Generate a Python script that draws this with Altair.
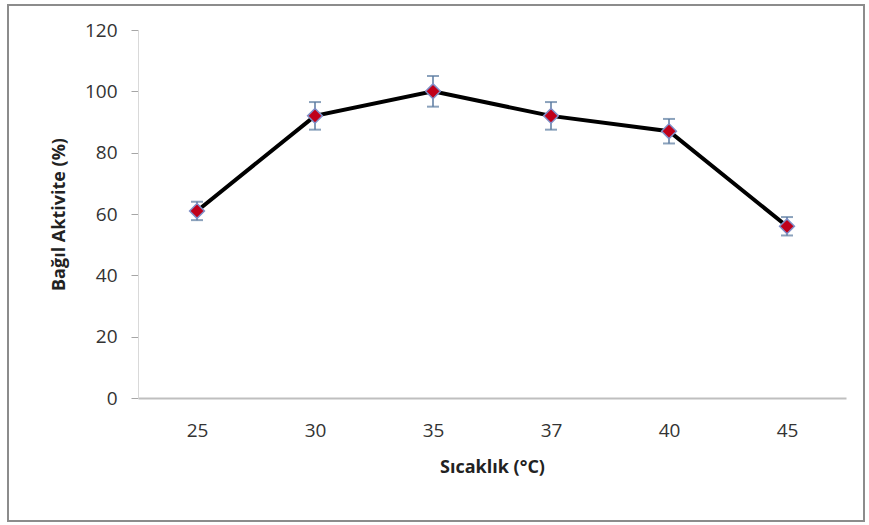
import altair as alt
import pandas as pd

temps = ["25", "30", "35", "37", "40", "45"]
activity = [61, 92, 100, 92, 87, 56]
err = [3, 4.5, 5, 4.5, 4, 3]

df = pd.DataFrame({
    "t": temps,
    "a": activity,
    "lo": [a - e for a, e in zip(activity, err)],
    "hi": [a + e for a, e in zip(activity, err)],
})

FONT = "Open Sans"
W, H = 708, 368
PL, PT = 138, 30

xenc = alt.X("t:N", sort=temps, scale=alt.Scale(type="point", padding=0.5),
             axis=alt.Axis(title="Sıcaklık (°C)", labelAngle=0, ticks=False,
                           domainColor="#bfbfbf", domainWidth=2,
                           labelFontSize=19, labelColor="#333333", labelPadding=23,
                           titleFontSize=18, titleFontWeight="bold", titleColor="#222222",
                           titlePadding=18, labelFont=FONT, titleFont=FONT))
yenc = alt.Y("a:Q", scale=alt.Scale(domain=[0, 120]),
             axis=alt.Axis(title="Bağıl Aktivite (%)", values=[0, 20, 40, 60, 80, 100, 120],
                           grid=False, domainColor="#d9d9d9", tickColor="#a6a6a6",
                           tickSize=7, labelPadding=14, labelFontSize=19,
                           labelColor="#333333", titleFontSize=18, titleFontWeight="bold",
                           titleColor="#222222", titlePadding=16, labelFont=FONT,
                           titleFont=FONT))

base = alt.Chart(df)

line = base.mark_line(color="black", strokeWidth=4).encode(x=xenc, y=yenc)
errbar = base.mark_rule(color="#5a7aa0", strokeWidth=1.5).encode(
    x=alt.X("t:N", sort=temps), y="lo:Q", y2="hi:Q")
capt = base.mark_tick(color="#5a7aa0", thickness=2, size=12, orient="horizontal").encode(
    x=alt.X("t:N", sort=temps), y="hi:Q")
capb = base.mark_tick(color="#5a7aa0", thickness=2, size=12, orient="horizontal").encode(
    x=alt.X("t:N", sort=temps), y="lo:Q")
pts = base.mark_point(shape="diamond", filled=True, size=220, color="#c0001a",
                      stroke="#7f8fc8", strokeWidth=1.5, opacity=1).encode(
    x=alt.X("t:N", sort=temps), y="a:Q")

border = alt.Chart(pd.DataFrame({"d": [0]})).mark_rect(
    fill=None, stroke="#8c8c8c", strokeWidth=2).encode(
    x=alt.value(8 - PL), x2=alt.value(864 - PL),
    y=alt.value(5 - PT), y2=alt.value(521 - PT))

chart = alt.layer(border, line, errbar, capt, capb, pts).properties(
    width=W, height=H,
    autosize=alt.AutoSizeParams(type="none"),
    padding={"left": PL, "top": PT, "right": 869 - PL - W, "bottom": 525 - PT - H},
    background="white",
).configure_view(stroke=None)

chart.save("out.html", embed_options={"renderer": "svg", "actions": False})
